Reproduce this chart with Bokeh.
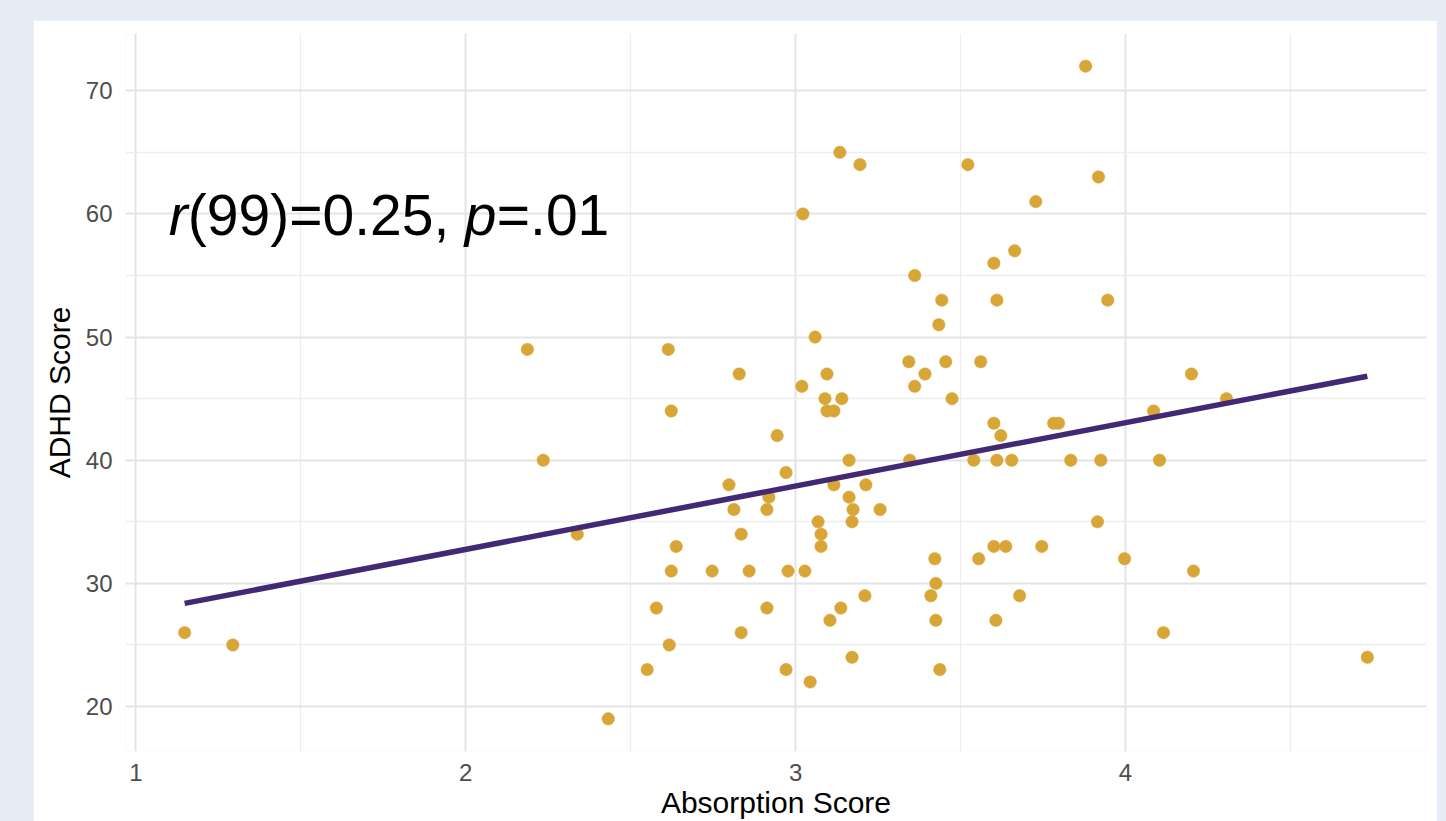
import numpy as np
from bokeh.plotting import figure
from bokeh.models import Range1d, FixedTicker, Label, GlobalInlineStyleSheet
from bokeh.embed import file_html
from bokeh.resources import INLINE

# ---- data ----
absorption = [1.148, 1.294, 2.187, 2.235, 2.338, 2.432, 2.550, 2.578, 2.614, 2.617,
              2.623, 2.623, 2.638, 2.747, 2.798, 2.813, 2.829, 2.835, 2.835, 2.859,
              2.913, 2.913, 2.919, 2.944, 2.971, 2.971, 2.977, 3.022, 3.019, 3.028,
              3.044, 3.059, 3.068, 3.077, 3.077, 3.089, 3.095, 3.095, 3.104, 3.116,
              3.116, 3.134, 3.137, 3.140, 3.162, 3.162, 3.171, 3.171, 3.174, 3.195,
              3.210, 3.213, 3.256, 3.343, 3.346, 3.361, 3.361, 3.392, 3.410, 3.422,
              3.425, 3.425, 3.434, 3.437, 3.443, 3.455, 3.474, 3.522, 3.540, 3.555,
              3.561, 3.601, 3.601, 3.601, 3.607, 3.610, 3.610, 3.622, 3.637, 3.655,
              3.664, 3.679, 3.728, 3.746, 3.782, 3.797, 3.834, 3.879, 3.918, 3.915,
              3.925, 3.946, 3.997, 4.085, 4.103, 4.115, 4.200, 4.206, 4.306, 4.733]
adhd = [26, 25, 49, 40, 34, 19, 23, 28, 49, 25,
        31, 44, 33, 31, 38, 36, 47, 34, 26, 31,
        28, 36, 37, 42, 39, 23, 31, 60, 46, 31,
        22, 50, 35, 34, 33, 45, 47, 44, 27, 44,
        38, 65, 28, 45, 37, 40, 24, 35, 36, 64,
        29, 38, 36, 48, 40, 55, 46, 47, 29, 32,
        30, 27, 51, 23, 53, 48, 45, 64, 40, 32,
        48, 56, 43, 33, 27, 53, 40, 42, 33, 40,
        57, 29, 61, 33, 43, 43, 40, 72, 63, 35,
        40, 53, 32, 44, 40, 26, 47, 31, 45, 24]
x_ticks = [1, 2, 3, 4]
x_minor = [1.5, 2.5, 3.5, 4.5]
y_ticks = [20, 30, 40, 50, 60, 70]
y_minor = [15, 25, 35, 45, 55, 65, 75]
stat_parts = ["r", "(99)=0.25, ", "p", "=.01"]
stat_italic = [True, False, True, False]

# ---- ranges (5% expansion like ggplot) ----
xa = np.array(absorption)
ya = np.array(adhd, dtype=float)
xspan = xa.max() - xa.min()
yspan = ya.max() - ya.min()
x_rng = Range1d(xa.min() - 0.05 * xspan, xa.max() + 0.05 * xspan)
y_rng = Range1d(ya.min() - 0.05 * yspan, ya.max() + 0.05 * yspan)

BG = "#e5ecf6"
p = figure(width=1404, height=801, margin=(20, 9, 0, 33),
           x_range=x_rng, y_range=y_rng,
           output_backend="svg", toolbar_location=None,
           min_border_left=92, min_border_right=11,
           min_border_top=13, min_border_bottom=70,
           background_fill_color="white", border_fill_color="white",
           outline_line_color=None)
p.stylesheets = [GlobalInlineStyleSheet(css=f"html, body {{ background-color: {BG}; }}")]

p.xaxis.ticker = FixedTicker(ticks=x_ticks, minor_ticks=x_minor)
p.yaxis.ticker = FixedTicker(ticks=y_ticks, minor_ticks=y_minor)
p.xgrid.ticker = p.xaxis.ticker
p.ygrid.ticker = p.yaxis.ticker

for g in (p.xgrid, p.ygrid):
    g.grid_line_color = "#e4e4e4"
    g.grid_line_width = 2
    g.minor_grid_line_color = "#ededed"
    g.minor_grid_line_width = 1.3

for ax in (p.xaxis, p.yaxis):
    ax.axis_line_color = None
    ax.major_tick_line_color = None
    ax.minor_tick_line_color = None
    ax.major_label_text_font = "Liberation Sans"
    ax.major_label_text_font_size = "24px"
    ax.major_label_text_color = "#4d4d4d"
    ax.axis_label_text_font = "Liberation Sans"
    ax.axis_label_text_font_size = "30px"
    ax.axis_label_text_font_style = "normal"
    ax.axis_label_text_color = "black"

p.xaxis.axis_label = "Absorption Score"
p.yaxis.axis_label = "ADHD Score"
p.xaxis.major_label_standoff = 6
p.xaxis.axis_label_standoff = 2
p.yaxis.major_label_standoff = 7
p.yaxis.axis_label_standoff = 7

p.scatter(absorption, adhd, size=12.5, fill_color="#d8a537", line_color="#d8a537",
          line_width=0.5)

slope, intercept = np.polyfit(xa, ya, 1)
fx = [xa.min(), xa.max()]
fy = [intercept + slope * v for v in fx]
p.line(fx, fy, line_width=5.5, line_color="#432874")

# annotation with italic r and p
offsets = [0, 19, 296, 328]
for txt, it, off in zip(stat_parts, stat_italic, offsets):
    p.add_layout(Label(x=1.1, y=59.9, x_offset=off, text=txt,
                       text_font="Liberation Sans", text_font_size="57px",
                       text_font_style="italic" if it else "normal",
                       text_color="black", text_baseline="alphabetic"))

open("out.html", "w").write(file_html(p, INLINE))
